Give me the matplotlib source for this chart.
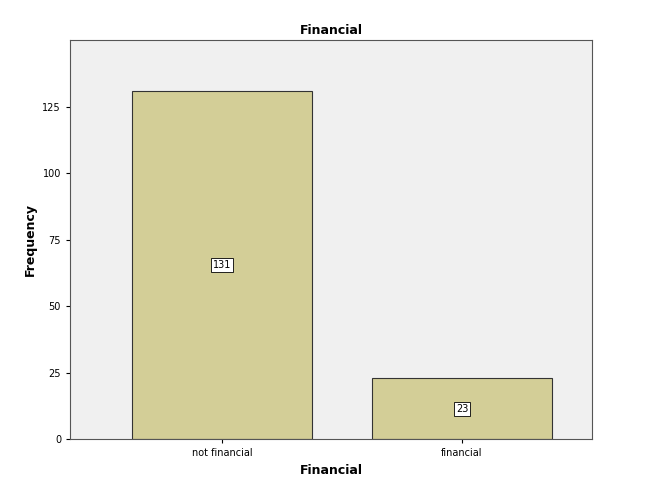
import matplotlib.pyplot as plt

categories = ['not financial', 'financial']
counts = [131, 23]

fig = plt.figure(figsize=(6.55, 4.94), dpi=100)
ax = fig.add_axes([0.107, 0.111, 0.797, 0.808])
ax.set_facecolor('#f0f0f0')

pos = list(range(len(categories)))
ax.bar(pos, counts, width=0.75, color='#d3ce97', edgecolor='#333333', linewidth=0.8)
for p, c in zip(pos, counts):
    ax.text(p, c / 2, str(c), ha='center', va='center', fontsize=7,
            bbox=dict(boxstyle='square,pad=0.2', facecolor='white', edgecolor='black', linewidth=0.6))

ax.set_xlim(-0.633, 1.542)
ax.set_ylim(0, 150)
ax.set_yticks([0, 25, 50, 75, 100, 125])
ax.set_xticks(pos)
ax.set_xticklabels(categories)
ax.tick_params(labelsize=7, length=3)
for s in ax.spines.values():
    s.set_color('#555555')
    s.set_linewidth(0.8)

ax.set_title('Financial', fontsize=9, fontweight='bold', pad=4)
ax.set_xlabel('Financial', fontsize=9, fontweight='bold')
ax.set_ylabel('Frequency', fontsize=9, fontweight='bold')

fig.savefig('out.png', dpi=100)
